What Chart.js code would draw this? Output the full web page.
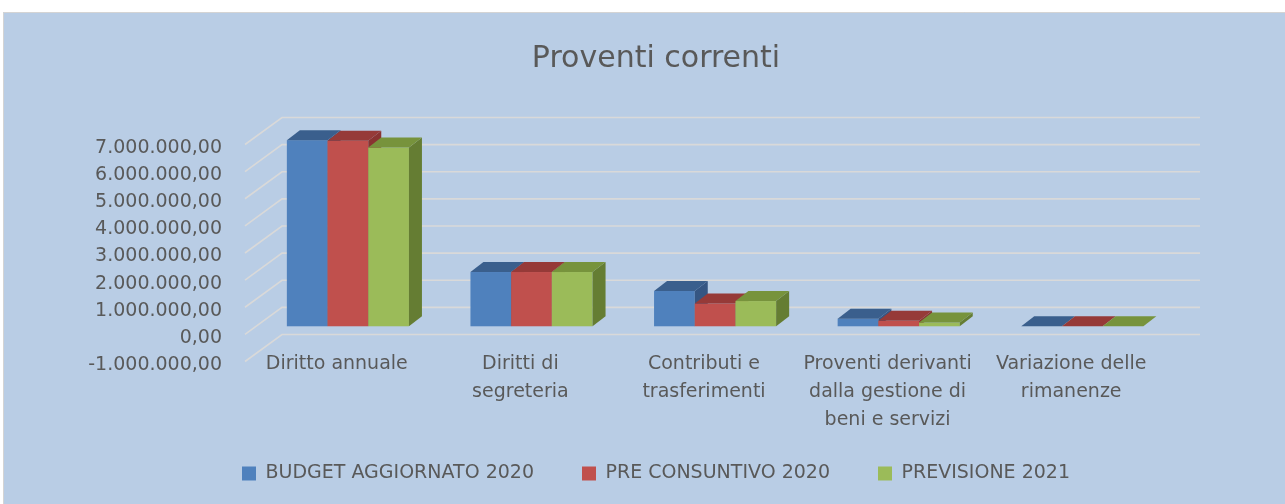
<!DOCTYPE html>
<html>
<head>
<meta charset="utf-8">
<script src="https://cdn.jsdelivr.net/npm/chart.js@4"></script>
<style>
  html, body { margin: 0; padding: 0; background: #fff; }
  #wrap { width: 1285px; height: 504px; }
</style>
</head>
<body>
<div id="wrap"><canvas id="grafico" width="1285" height="504"></canvas></div>
<script>
const categorie = [
  ['Diritto annuale'],
  ['Diritti di', 'segreteria'],
  ['Contributi e', 'trasferimenti'],
  ['Proventi derivanti', 'dalla gestione di', 'beni e servizi'],
  ['Variazione delle', 'rimanenze']
];
const budgetAggiornato2020 = [6860000, 2000000, 1300000, 280000, 0];
const preConsuntivo2020 = [6840000, 2000000, 840000, 200000, 0];
const previsione2021 = [6590000, 2000000, 930000, 140000, 0];

const yMin = -1000000;
const yMax = 7000000;
const yStep = 1000000;

const nomiSerie = ['BUDGET AGGIORNATO 2020', 'PRE CONSUNTIVO 2020', 'PREVISIONE 2021'];
const coloriFronte = ['#4F81BD', '#C0504D', '#9BBB59'];
const coloriSopra = ['#3A5F8D', '#963A38', '#77933C'];
const coloriLato = ['#355683', '#8A3331', '#657D33'];

const testo = '#595959';
const font = 'DejaVu Sans';

// numero in formato italiano: 7.000.000,00
function formatta(v) {
  const neg = v < 0;
  const parti = Math.abs(v).toFixed(2).split('.');
  const intero = parti[0].replace(/\B(?=(\d{3})+(?!\d))/g, '.');
  return (neg ? '-' : '') + intero + ',' + parti[1];
}

// profondita' prospettica (pareti e barre)
const prof = { dx: 37, dy: -27 };
const barraDavanti = 0.3;
const barraProf = { dx: 13, dy: -10 };

const sfondo3d = {
  id: 'sfondo3d',
  beforeDraw(chart) {
    const c = chart.ctx;
    c.save();
    c.fillStyle = '#ffffff';
    c.fillRect(0, 0, chart.width, chart.height);
    c.fillStyle = '#B9CDE5';
    c.fillRect(3, 12, chart.width - 3, chart.height - 12);
    c.strokeStyle = '#D4D4D4';
    c.lineWidth = 1;
    c.beginPath();
    c.moveTo(3.5, chart.height);
    c.lineTo(3.5, 12.5);
    c.lineTo(chart.width, 12.5);
    c.stroke();
    c.restore();
  },
  beforeDatasetsDraw(chart) {
    const c = chart.ctx;
    const y = chart.scales.y;
    const a = chart.chartArea;
    c.save();
    c.strokeStyle = '#D9D9D9';
    c.lineWidth = 1.6;
    y.ticks.forEach(t => {
      const py = y.getPixelForValue(t.value);
      c.beginPath();
      c.moveTo(a.left, py);
      c.lineTo(a.left + prof.dx, py + prof.dy);
      c.lineTo(a.right + prof.dx, py + prof.dy);
      c.stroke();
    });
    c.restore();
  },
  beforeDatasetDraw() {
    return false;
  },
  afterDatasetsDraw(chart) {
    const c = chart.ctx;
    const ox = prof.dx * barraDavanti;
    const oy = prof.dy * barraDavanti;
    const n = chart.data.labels.length;
    c.save();
    for (let i = 0; i < n; i++) {
      chart.data.datasets.forEach((ds, d) => {
        const el = chart.getDatasetMeta(d).data[i];
        const p = el.getProps(['x', 'y', 'base', 'width'], true);
        const l = p.x - p.width / 2 + ox;
        const r = p.x + p.width / 2 + ox;
        const t = Math.min(p.y, p.base) + oy;
        const b = Math.max(p.y, p.base) + oy;
        // fronte
        c.fillStyle = coloriFronte[d];
        c.fillRect(l, t, r - l, b - t);
        // lato
        c.fillStyle = coloriLato[d];
        c.beginPath();
        c.moveTo(r, t);
        c.lineTo(r + barraProf.dx, t + barraProf.dy);
        c.lineTo(r + barraProf.dx, b + barraProf.dy);
        c.lineTo(r, b);
        c.closePath();
        c.fill();
        // sopra
        c.fillStyle = coloriSopra[d];
        c.beginPath();
        c.moveTo(l, t);
        c.lineTo(r, t);
        c.lineTo(r + barraProf.dx, t + barraProf.dy);
        c.lineTo(l + barraProf.dx, t + barraProf.dy);
        c.closePath();
        c.fill();
      });
    }
    c.restore();
  }
};

const serie = [budgetAggiornato2020, preConsuntivo2020, previsione2021];

new Chart(document.getElementById('grafico'), {
  type: 'bar',
  data: {
    labels: categorie,
    datasets: serie.map((valori, d) => ({
      label: nomiSerie[d],
      data: valori,
      backgroundColor: coloriFronte[d],
      borderWidth: 0,
      categoryPercentage: 0.665,
      barPercentage: 1
    }))
  },
  options: {
    responsive: false,
    animation: false,
    events: [],
    layout: { padding: { left: 27, right: 0, top: 12, bottom: 11 } },
    plugins: {
      title: {
        display: true,
        text: 'Proventi correnti',
        color: testo,
        font: { family: font, size: 30, weight: 'normal' },
        padding: { top: 29, bottom: 67.5 }
      },
      legend: {
        position: 'bottom',
        labels: {
          color: testo,
          font: { family: font, size: 19 },
          boxWidth: 14,
          boxHeight: 14,
          padding: 48
        }
      },
      tooltip: { enabled: false }
    },
    scales: {
      x: {
        grid: { display: false, drawTicks: false },
        border: { display: false },
        ticks: {
          color: testo,
          font: { family: font, size: 19, lineHeight: 1.47 },
          maxRotation: 0,
          autoSkip: false,
          padding: -11
        },
        afterFit(s) {
          s.height = 54.5;
          // le etichette su tre righe escono dal riquadro dell'asse
          s._computeLabelArea = () => undefined;
        }
      },
      y: {
        min: yMin,
        max: yMax,
        grid: { display: false, drawTicks: false },
        border: { display: false },
        ticks: {
          stepSize: yStep,
          color: testo,
          font: { family: font, size: 19, lineHeight: '7px' },
          padding: 23,
          // riga vuota sopra: abbassa l'etichetta di mezza interlinea
          callback: v => ['', formatta(v)]
        },
        afterFit(s) { s.width = 218; }
      },
      destra: {
        position: 'right',
        grid: { display: false, drawTicks: false },
        border: { display: false },
        ticks: { display: false },
        afterFit(s) { s.width = 122; }
      }
    }
  },
  plugins: [sfondo3d]
});
</script>
</body>
</html>
